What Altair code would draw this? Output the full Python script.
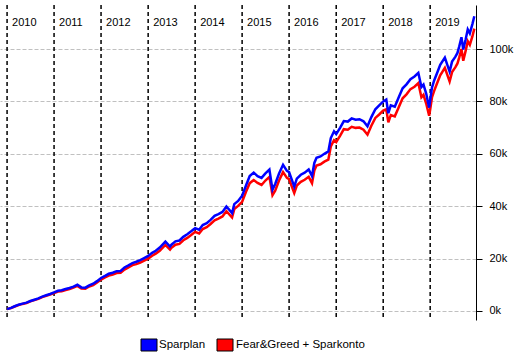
import altair as alt
import pandas as pd

# ---- data (values in thousands) ----
dates = [
    "2010-01-01", "2010-02-01", "2010-03-01", "2010-04-01", "2010-05-01", "2010-06-01",
    "2010-07-01", "2010-08-01", "2010-09-01", "2010-10-01", "2010-11-01", "2010-12-01",
    "2011-01-01", "2011-02-01", "2011-03-01", "2011-04-01", "2011-05-01", "2011-06-01",
    "2011-07-01", "2011-08-01", "2011-09-01", "2011-10-01", "2011-11-01", "2011-12-01",
    "2012-01-01", "2012-02-01", "2012-03-01", "2012-04-01", "2012-05-01", "2012-06-01",
    "2012-07-01", "2012-08-01", "2012-09-01", "2012-10-01", "2012-11-01", "2012-12-01",
    "2013-01-01", "2013-02-01", "2013-03-01", "2013-04-01", "2013-05-15", "2013-06-20",
    "2013-07-01", "2013-08-01", "2013-09-01", "2013-10-01", "2013-11-01", "2013-12-01",
    "2014-01-01", "2014-02-01", "2014-03-01", "2014-04-01", "2014-05-01", "2014-06-01",
    "2014-07-01", "2014-08-01", "2014-09-01", "2014-10-15", "2014-11-01", "2014-12-01",
    "2015-01-01", "2015-02-01", "2015-03-01", "2015-04-01", "2015-05-01", "2015-06-01",
    "2015-07-01", "2015-08-01", "2015-08-25", "2015-09-15", "2015-10-15", "2015-11-15",
    "2015-12-15",
    "2016-01-01", "2016-02-10", "2016-03-01", "2016-04-01", "2016-05-01", "2016-06-01",
    "2016-06-27", "2016-07-15", "2016-08-01", "2016-09-01", "2016-10-01", "2016-11-01",
    "2016-11-20", "2016-12-15",
    "2017-01-01", "2017-02-01", "2017-03-01", "2017-04-01", "2017-05-01", "2017-06-01",
    "2017-07-01", "2017-08-01", "2017-09-01", "2017-10-01", "2017-11-01", "2017-12-01",
    "2018-01-01", "2018-01-25", "2018-02-10", "2018-03-01", "2018-04-01", "2018-05-01",
    "2018-06-01", "2018-07-01", "2018-08-01", "2018-09-01", "2018-10-01", "2018-10-25",
    "2018-11-10", "2018-12-01", "2018-12-24",
    "2019-01-01", "2019-01-15", "2019-02-01", "2019-03-01", "2019-03-20", "2019-04-25",
    "2019-06-01", "2019-06-20", "2019-07-15", "2019-08-01", "2019-08-15", "2019-09-01",
    "2019-09-15", "2019-10-03", "2019-10-20", "2019-11-05", "2019-11-25", "2019-12-10",
]

sparplan = [
    0.7, 1.2, 1.8, 2.4, 2.8, 3.2, 3.8, 4.3, 4.8, 5.5, 6.0, 6.5,
    7.1, 7.7, 7.9, 8.4, 8.8, 9.3, 10.0, 9.0, 8.9, 9.8, 10.4, 11.4,
    12.6, 13.4, 14.2, 14.6, 15.2, 15.3, 16.6, 17.4, 18.3, 18.8, 19.4, 20.2,
    21.0, 22.2, 23.0, 24.2, 26.5, 24.6, 25.3, 26.6, 26.9, 28.3, 29.3, 30.4,
    31.6, 31.0, 32.8, 33.5, 34.8, 36.3, 37.0, 37.8, 39.9, 37.4, 40.8, 42.0,
    44.0, 48.0, 51.5, 52.8, 51.5, 50.8, 52.5, 54.0, 46.3, 48.5, 52.5, 55.8,
    53.5,
    53.0, 47.5, 50.5, 52.0, 52.8, 54.0, 51.5, 56.5, 58.5, 59.0, 60.0, 60.9,
    66.0, 68.6,
    67.5, 70.0, 72.5, 72.3, 73.5, 73.0, 73.2, 72.4, 70.5, 74.0, 77.0, 78.5,
    80.0, 80.7, 75.5, 78.5, 78.0, 81.5, 85.0, 86.5, 88.5, 89.5, 90.9, 85.5,
    86.4, 83.0, 77.6,
    80.5, 85.3, 88.0, 91.5, 94.0, 96.7, 91.4, 95.2, 97.0, 98.5, 101.0, 104.5,
    99.8, 103.5, 107.5, 106.0, 109.5, 112.5,
]

fear_greed = [
    0.7, 1.15, 1.7, 2.3, 2.7, 3.05, 3.65, 4.15, 4.6, 5.3, 5.8, 6.25,
    6.8, 7.4, 7.55, 8.0, 8.4, 8.9, 9.6, 8.6, 8.5, 9.35, 9.9, 10.9,
    12.0, 12.8, 13.5, 13.9, 14.5, 14.6, 15.8, 16.6, 17.5, 17.9, 18.5, 19.2,
    20.0, 21.1, 21.9, 23.0, 25.2, 23.4, 24.1, 25.3, 25.6, 27.0, 27.9, 29.0,
    30.2, 29.6, 31.3, 32.0, 33.2, 34.6, 35.3, 36.1, 38.1, 35.7, 38.9, 40.1,
    41.7, 45.6, 48.8, 50.0, 48.9, 48.1, 49.8, 51.2, 44.2, 45.9, 49.8, 53.0,
    50.8,
    50.3, 45.0, 47.9, 49.3, 50.1, 51.2, 48.8, 53.6, 55.5, 56.0, 57.0, 57.8,
    62.8, 65.2,
    64.5, 66.9, 69.4, 69.2, 70.3, 69.9, 70.0, 69.2, 67.3, 70.7, 73.7, 75.0,
    76.5, 77.0, 72.0, 74.8, 74.3, 77.7, 81.2, 82.7, 84.7, 85.6, 87.0, 81.6,
    82.5, 79.2, 74.5,
    76.9, 81.5, 84.0, 87.6, 90.0, 92.8, 87.6, 91.2, 93.0, 94.5, 96.8, 100.0,
    95.5, 99.2, 103.0, 101.6, 104.8, 107.8,
]

series_names = ["Sparplan", "Fear&Greed + Sparkonto"]
series_colors = ["#0000ff", "#ff0000"]
year_labels = [str(y) for y in range(2010, 2020)]
y_ticks = [0, 20, 40, 60, 80, 100]

W, H = 476, 315
FONT = "Liberation Sans"

df_blue = pd.DataFrame({"date": dates, "value": sparplan})
df_red = pd.DataFrame({"date": dates, "value": fear_greed})
df_years = pd.DataFrame({"date": [y + "-01-01" for y in year_labels], "label": year_labels})

x_scale = alt.Scale(domain=["2009-11-07", "2019-12-23"])
y_scale = alt.Scale(domain=[-3.44, 116.8], nice=False, zero=False)

year_rules = alt.Chart(df_years).mark_rule(
    color="black", strokeDash=[4, 3], strokeWidth=1.5
).encode(x=alt.X("date:T", scale=x_scale, axis=None))

year_text = alt.Chart(df_years).mark_text(
    align="left", baseline="alphabetic", dx=5, font=FONT, fontSize=11, color="black"
).encode(x=alt.X("date:T", scale=x_scale, axis=None), y=alt.value(21), text="label:N")

red_line = alt.Chart(df_red).mark_line(color=series_colors[1], strokeWidth=2.5).encode(
    x=alt.X("date:T", scale=x_scale, axis=None),
    y=alt.Y(
        "value:Q",
        scale=y_scale,
        axis=alt.Axis(
            orient="right",
            values=y_ticks,
            labelExpr="datum.value + 'k'",
            title=None,
            grid=True,
            gridColor="#c0c0c0",
            gridDash=[4, 2],
            gridWidth=1,
            domainColor="black",
            domainWidth=1,
            tickColor="black",
            tickSize=6,
            tickWidth=1,
            labelPadding=7,
            labelFont=FONT,
            labelFontSize=11,
            labelColor="black",
        ),
    ),
)

blue_line = alt.Chart(df_blue).mark_line(color=series_colors[0], strokeWidth=2.5).encode(
    x=alt.X("date:T", scale=x_scale, axis=None),
    y=alt.Y("value:Q", scale=y_scale),
)

# manual legend
leg_layers = []
leg_pos = [(141, 157, 159), (217, 233, 236)]
for i, name in enumerate(series_names):
    x0, x1, xt = leg_pos[i]
    ldf = pd.DataFrame({"name": [name]})
    leg_layers.append(
        alt.Chart(ldf).mark_rect(color=series_colors[i], stroke="black", strokeWidth=1).encode(
            x=alt.value(x0), x2=alt.value(x1), y=alt.value(334), y2=alt.value(346)
        )
    )
    leg_layers.append(
        alt.Chart(ldf).mark_text(
            align="left", baseline="middle", font=FONT, fontSize=11.5, color="black"
        ).encode(x=alt.value(xt), y=alt.value(340), text="name:N")
    )

chart = alt.layer(year_rules, year_text, red_line, blue_line, *leg_layers).properties(
    width=W, height=H, padding={"left": 0, "top": 5, "right": 40, "bottom": 33},
    autosize=alt.AutoSizeParams(type="none"),
    background="white",
).configure_view(strokeWidth=0)

chart.save("out.html", embed_options={"renderer": "svg", "actions": False})
